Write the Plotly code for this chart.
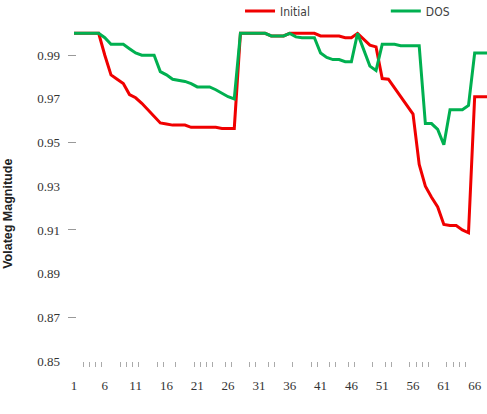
import plotly.graph_objects as go

buses = list(range(1, 69))

initial = [
    1.0, 1.0, 1.0, 1.0, 1.0,
    0.990, 0.981, 0.979, 0.977, 0.972,
    0.9705, 0.968, 0.965, 0.962, 0.959,
    0.9585, 0.958, 0.958, 0.958, 0.957,
    0.957, 0.957, 0.957, 0.957, 0.9565,
    0.9565, 0.9565, 1.0, 1.0, 1.0,
    1.0, 1.0, 0.9988, 0.9988, 0.9988,
    1.0, 1.0, 1.0, 1.0, 1.0,
    0.9988, 0.9988, 0.9988, 0.9988, 0.998,
    0.998, 1.0, 0.9973, 0.9946, 0.9938,
    0.9793, 0.979, 0.975, 0.971, 0.967,
    0.963, 0.940, 0.930, 0.925, 0.9205,
    0.9125, 0.912, 0.912, 0.910, 0.9087,
    0.971, 0.971, 0.971,
]

dos = [
    1.0, 1.0, 1.0, 1.0, 1.0,
    0.998, 0.995, 0.995, 0.995, 0.993,
    0.991, 0.990, 0.990, 0.990, 0.9825,
    0.981, 0.979, 0.9785, 0.978, 0.977,
    0.9755, 0.9755, 0.9755, 0.9742, 0.9725,
    0.971, 0.970, 1.0, 1.0, 1.0,
    1.0, 1.0, 0.9988, 0.9988, 0.9988,
    1.0, 0.9984, 0.998, 0.998, 0.998,
    0.991, 0.989, 0.988, 0.988, 0.987,
    0.987, 1.0, 0.9925, 0.985, 0.983,
    0.995, 0.995, 0.995, 0.9943, 0.9943,
    0.9943, 0.9943, 0.9587, 0.9587, 0.956,
    0.949, 0.965, 0.965, 0.965, 0.967,
    0.991, 0.991, 0.991,
]

x_tick_vals = [1, 6, 11, 16, 21, 26, 31, 36, 41, 46, 51, 56, 61, 66]
x_tick_text = [str(v) for v in x_tick_vals]
x_minor_ticks = [2.5, 3.5, 4.5, 5.5, 8.5, 9.5, 10.5, 11.5, 14.5, 15.5, 17.5,
                 20.5, 21.5, 22.5, 23.5, 25.5, 26.5, 29.5, 30.5, 32.5, 33.5,
                 36.5, 39.5, 40.5, 42.5, 43.5, 45.5, 46.5, 49.5, 51.5, 52.5,
                 55.5, 56.5, 57.5, 58.5, 61.5, 62.5, 63.5, 64.5]
y_tick_vals = [0.85, 0.87, 0.89, 0.91, 0.93, 0.95, 0.97, 0.99]
y_tick_text = ["0.85", "0.87", "0.89", "0.91", "0.93", "0.95", "0.97", "0.99"]
y_dash_vals = [0.87, 0.91, 0.95, 0.99]

fig = go.Figure()
fig.add_trace(go.Scatter(x=buses, y=initial, mode="lines", name="Initial",
                         legend="legend",
                         line=dict(color="#F00000", width=3)))
fig.add_trace(go.Scatter(x=buses, y=dos, mode="lines", name="DOS",
                         legend="legend2",
                         line=dict(color="#00B050", width=3)))
# invisible helper so the overlaid dash axis is drawn
fig.add_trace(go.Scatter(x=buses, y=dos, mode="lines", yaxis="y2", showlegend=False,
                         hoverinfo="skip", opacity=0, line=dict(width=0)))

tick_font = dict(family="Liberation Serif", size=13, color="#333333")
leg_font = dict(family="DejaVu Sans Condensed, Liberation Sans Narrow, Liberation Sans",
                size=12, color="#404040")

fig.update_layout(
    width=487, height=414,
    margin=dict(l=74, r=0, t=29, b=53, autoexpand=False),
    plot_bgcolor="white", paper_bgcolor="white",
    showlegend=True,
    legend=dict(orientation="h", x=0.402, y=1.054, xanchor="left", yanchor="middle",
                font=leg_font, itemwidth=30, bgcolor="rgba(0,0,0,0)"),
    legend2=dict(orientation="h", x=0.755, y=1.054, xanchor="left", yanchor="middle",
                 font=leg_font, itemwidth=30, bgcolor="rgba(0,0,0,0)"),
    xaxis=dict(range=[1, 68], showgrid=False, zeroline=False, showline=False,
               tickmode="array", tickvals=x_tick_vals, ticktext=x_tick_text,
               ticks="", tickfont=tick_font, ticklabelstandoff=15,
               minor=dict(tickmode="array", tickvals=x_minor_ticks, ticks="outside",
                          ticklen=5, tickwidth=1, tickcolor="#AAAAAA", showgrid=False)),
    yaxis=dict(range=[0.85, 1.002], showgrid=False, zeroline=False, showline=False,
               tickmode="array", tickvals=y_tick_vals, ticktext=y_tick_text,
               ticks="", tickfont=tick_font, ticklabelstandoff=13),
    yaxis2=dict(range=[0.85, 1.002], overlaying="y", anchor="free", position=0.005,
                side="left", showgrid=False, zeroline=False, showline=False,
                showticklabels=False, tickmode="array", tickvals=y_dash_vals,
                ticks="outside", ticklen=8, tickwidth=1, tickcolor="#999999"),
    annotations=[dict(text="<b>Volateg Magnitude</b>", textangle=-90,
                      xref="paper", yref="paper", x=-0.160, y=0.443,
                      xanchor="center", yanchor="middle", showarrow=False,
                      font=dict(family="Liberation Sans", size=12.5, color="#222222"))],
)

fig.write_html("out.html")
